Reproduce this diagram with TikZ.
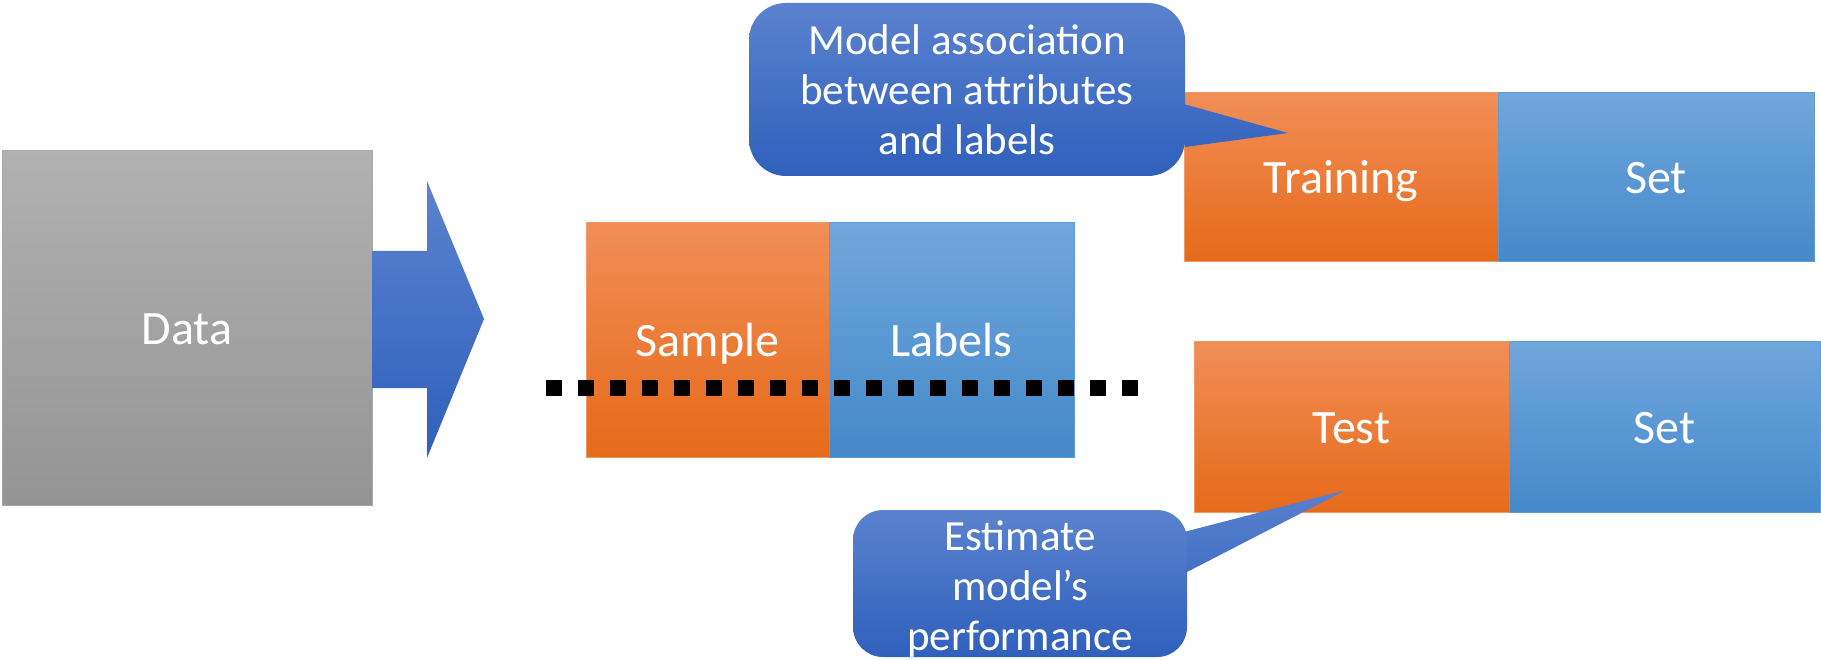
\documentclass[tikz,border=0pt]{standalone}
\usepackage{fontspec}
\setmainfont{Carlito}
\definecolor{grayT}{HTML}{B1B1B1}
\definecolor{grayB}{HTML}{949494}
\definecolor{grayE}{HTML}{A8A8A8}
\definecolor{orangeT}{HTML}{F18E57}
\definecolor{orangeB}{HTML}{E66A1A}
\definecolor{orangeE}{HTML}{F19A66}
\definecolor{blueT}{HTML}{70A7DC}
\definecolor{blueB}{HTML}{4489CA}
\definecolor{blueE}{HTML}{5E9CD6}
\definecolor{callT}{HTML}{5B82CE}
\definecolor{callB}{HTML}{2F60BC}
\begin{document}
\begin{tikzpicture}[x=1pt,y=-1pt,
  base/.style={anchor=north west, inner sep=0pt, outer sep=0pt, line width=1pt,
    text=white, font=\fontsize{48}{58}\selectfont, text height=33pt, text depth=0pt},
  graybox/.style={base, draw=grayE, top color=grayT, bottom color=grayB},
  orangebox/.style={base, draw=orangeE, top color=orangeT, bottom color=orangeB},
  bluebox/.style={base, draw=blueE, top color=blueT, bottom color=blueB},
  callfill/.style={top color=callT, bottom color=callB, draw=none},
  calltext/.style={text=white, align=center, font=\fontsize{43}{50}\selectfont, inner sep=0pt},
  dotline/.style={line width=16pt, dash pattern=on 16pt off 16pt, line cap=butt}]
\path[use as bounding box] (0,0) rectangle (1821,660);

% Data box and block arrow
\node[graybox, minimum width=370pt, minimum height=354pt] (data) at (2,151) {Data};
\shade[callfill] (372,251) -- (427,251) -- (427,181) -- (484,319) -- (427,458) -- (427,388) -- (372,388) -- cycle;

% Sample / Labels
\node[orangebox, minimum width=243pt, minimum height=234pt] (sample) at (586,223) {Sample};
\node[bluebox, minimum width=245pt, minimum height=234pt] (labels) at (829,223) {Labels};

% Training / Set
\node[orangebox, minimum width=314pt, minimum height=169pt] (training) at (1184,93) {Training};
\node[bluebox, minimum width=316pt, minimum height=169pt] (trainset) at (1498,93) {Set};

% Test / Set
\node[orangebox, minimum width=315pt, minimum height=170pt] (test) at (1194,342) {Test};
\node[bluebox, minimum width=311pt, minimum height=170pt] (testset) at (1509,342) {Set};

% dotted split line
\coordinate (dl) at (546,388);
\coordinate (dr) at (1138,388);
\draw[dotline] (dl) -- (dr);

% Callout 1
\begin{scope}
  \clip (1180,103) -- (1288,133) -- (1185,147) -- cycle;
  \shade[callfill] (749,3) rectangle (1290,176);
\end{scope}
\shade[callfill, rounded corners=37pt] (749,3) rectangle (1185,176);
\node[calltext] (callA) at (967,90) {Model association\\between attributes\\and labels};

% Callout 2
\begin{scope}
  \clip (1180,533) -- (1346,490) -- (1187,572) -- cycle;
  \shade[callfill] (853,480) rectangle (1350,657);
\end{scope}
\shade[callfill, rounded corners=30pt] (853,510) rectangle (1187,657);
\node[calltext] (callB) at (1020,589) {Estimate\\model’s\\performance};
\end{tikzpicture}
\end{document}
